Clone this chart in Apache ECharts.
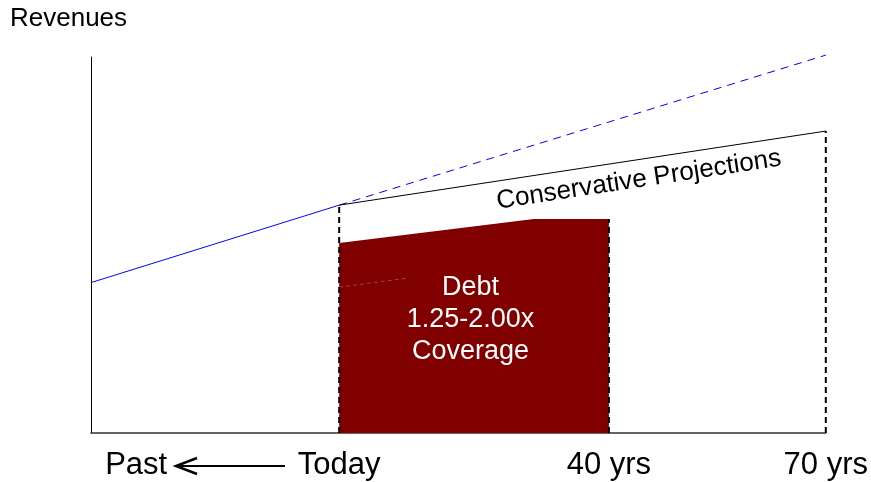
<!DOCTYPE html>
<html>
<head>
<meta charset="utf-8">
<script src="https://cdn.jsdelivr.net/npm/echarts@6/dist/echarts.min.js"></script>
<style>html,body{margin:0;padding:0;background:#fff}#c{width:871px;height:482px}</style>
</head>
<body>
<div id="c"></div>
<script>
// x: years relative to today (schematic), y: revenue index (schematic)
var tickValues = [-29.2, 0, 38.8, 70];
var tickLabels = ['Past', 'Today', '40 yrs', '70 yrs'];
var pastRevenue = [[-35.7, 40.0], [0, 60.6]];
var optimistic = [[0, 60.6], [70, 100.5]];
var conservative = [[0, 60.6], [70, 80.3]];
var debtTop = [[0, 50.5], [28, 56.9], [38.8, 56.9]];
var debtInner = [[0, 38.8], [9.9, 41.2]];
var todayLine = [[0, 0], [0, 60.6]];
var debtEndLine = [[38.8, 0], [38.8, 56.9]];
var endLine = [[70, 0], [70, 80.3]];
var FONT = 'Liberation Sans, Arial, sans-serif';

var chart = echarts.init(document.getElementById('c'));
function dashed(data) {
  return {type: 'line', data: data, symbol: 'none', silent: true, clip: false, z: 5,
    lineStyle: {color: '#000', width: 2, type: [6, 4]}};
}
chart.setOption({
  animation: false,
  grid: {left: 91, top: 57, right: 41, bottom: 49},
  xAxis: {type: 'value', min: -35.7, max: 70,
    axisLine: {show: true, onZero: false, lineStyle: {color: '#333', width: 1.5}},
    axisTick: {show: false}, splitLine: {show: false},
    axisLabel: {customValues: tickValues, margin: 32, verticalAlign: 'middle',
      fontSize: 31, color: '#000', fontFamily: FONT,
      formatter: function (v) { var i = tickValues.indexOf(v); return i >= 0 ? tickLabels[i] : ''; }}},
  yAxis: {type: 'value', min: 0, max: 100,
    axisLine: {show: true, onZero: false, lineStyle: {color: '#000', width: 1}},
    axisTick: {show: false}, splitLine: {show: false}, axisLabel: {show: false}},
  series: [
    {type: 'line', data: debtTop, symbol: 'none', silent: true, z: 2,
      lineStyle: {width: 0}, areaStyle: {color: '#800000', opacity: 1}},
    {type: 'line', data: debtInner, symbol: 'none', silent: true, z: 3,
      lineStyle: {color: '#a84040', width: 1, type: [4, 3]}},
    {type: 'line', data: pastRevenue, symbol: 'none', silent: true, z: 4,
      lineStyle: {color: '#0000ff', width: 1}},
    {type: 'line', data: optimistic, symbol: 'none', silent: true, clip: false, z: 4,
      lineStyle: {color: '#0000ff', width: 1, type: [8, 6]}},
    {type: 'line', data: conservative, symbol: 'none', silent: true, z: 4,
      lineStyle: {color: '#000', width: 1}},
    dashed(todayLine), dashed(debtEndLine), dashed(endLine)
  ]
});

var p0 = chart.convertToPixel({gridIndex: 0}, conservative[0]);
var p1 = chart.convertToPixel({gridIndex: 0}, conservative[1]);
var ang = Math.atan2(p0[1] - p1[1], p1[0] - p0[0]);
var cp = chart.convertToPixel({gridIndex: 0}, [43.1, 67.3]);
var dp = chart.convertToPixel({gridIndex: 0}, [18.9, 30.3]);
chart.setOption({
  graphic: [
    {type: 'text', left: 10, top: 6, style: {text: 'Revenues', fontSize: 26, fontFamily: FONT, fill: '#000'}},
    {type: 'text', x: cp[0], y: cp[1], rotation: ang,
      style: {text: 'Conservative Projections', fontSize: 26, fontFamily: FONT, fill: '#000',
        align: 'center', verticalAlign: 'middle'}},
    {type: 'text', x: dp[0], y: dp[1], z: 10,
      style: {text: 'Debt\n1.25-2.00x\nCoverage', fontSize: 27, lineHeight: 32, fontFamily: FONT, fill: '#fff',
        align: 'center', verticalAlign: 'middle'}},
    {type: 'line', shape: {x1: 178, y1: 466, x2: 285, y2: 466}, style: {stroke: '#000', lineWidth: 2}},
    {type: 'polyline', shape: {points: [[197, 458], [176, 466], [197, 474]]}, style: {stroke: '#000', lineWidth: 2.5, fill: null}}
  ]
});
</script>
</body>
</html>
